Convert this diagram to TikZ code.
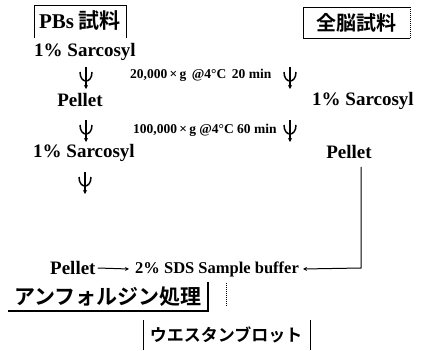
\documentclass[tikz,border=0pt]{standalone}
\usepackage{fontspec}
\setmainfont{Liberation Serif}
\newfontfamily\jpfont{Noto Sans CJK JP}[BoldFont={* Bold}]
\usetikzlibrary{arrows.meta}
\begin{document}
\begin{tikzpicture}[x=1pt,y=-1pt,
  lbl/.style={font=\fontsize{19}{21}\selectfont\bfseries, inner sep=0pt},
  cond/.style={font=\fontsize{13.5}{15}\selectfont\bfseries, inner sep=0pt, anchor=west},
  jp/.style={font=\fontsize{19}{21}\selectfont\jpfont\bfseries, inner sep=0pt},
  ln/.style={line width=1pt},
  centri/.pic={
    \draw[line width=1.5pt,-{Stealth[length=4pt,width=4pt]}] (0,-10) -- (0,12);
    \draw[line width=1.5pt] (-6,-5) .. controls (-6,7) and (6,7) .. (6,-5);
  }]
\useasboundingbox (0,0) rectangle (421,351);
% top boxes
\node[jp,font=\fontsize{21}{23}\selectfont\jpfont\bfseries] (pbs) at (80,21) {{\rmfamily\bfseries PBs} 試料};
\draw[ln] (34,38) -- (34,5) -- (126,5) -- (126,38);
\node[jp,font=\fontsize{20}{22}\selectfont\jpfont\bfseries] (zen) at (356,23) {全脳試料};
\draw[ln] (410,38) -- (303,38) -- (303,7) -- (410,7);
\draw[ln,densely dotted] (410,7) -- (410,38);
% left column
\node[lbl] (s1) at (85,52) {1\% Sarcosyl};
\pic at (86,77) {centri};
\node[cond] (c1) at (130,75) {20,000\,×\,g \,@4°C \,20 min};
\node[lbl] (p1) at (80,100) {Pellet};
\pic at (86,130) {centri};
\node[cond] (c2) at (133,130) {100,000\,×\,g @4°C 60 min};
\node[lbl] (s2) at (84,153) {1\% Sarcosyl};
\pic at (85,182) {centri};
% right column
\pic at (290,77) {centri};
\node[lbl] (s3) at (363,101) {1\% Sarcosyl};
\pic at (290,130) {centri};
\node[lbl] (p3) at (349,152) {Pellet};
% bottom row
\node[lbl,anchor=west] (p2) at (50,268) {Pellet};
\node[cond,font=\fontsize{16.5}{18}\selectfont\bfseries] (sds) at (135,269) {2\% SDS Sample buffer};
\draw[ln,-{Stealth[length=4pt,width=4pt]}] (p2.east) ++(2,0) -- ([xshift=-6pt]sds.west);
\coordinate (corner) at (361,268);
\draw[ln,-{Stealth[length=4pt,width=4pt]}] (p3.south -| corner) ++(0,8) -- (corner) -- ([xshift=4pt]sds.east);
% anfolgin
\node[jp,font=\fontsize{21}{23}\selectfont\jpfont\bfseries] (anf) at (108,297) {アンフォルジン処理};
\draw[line width=1.2pt] (8,311) -- (208,311) -- (208,282);
\draw[ln,densely dotted] (226,283) -- (226,306);
% western
\node[jp,font=\fontsize{17}{19}\selectfont\jpfont\bfseries] (wb) at (226,335) {ウエスタンブロット};
\draw[ln] (143,320) -- (143,350);
\draw[ln] (310,320) -- (310,350);
\end{tikzpicture}
\end{document}
